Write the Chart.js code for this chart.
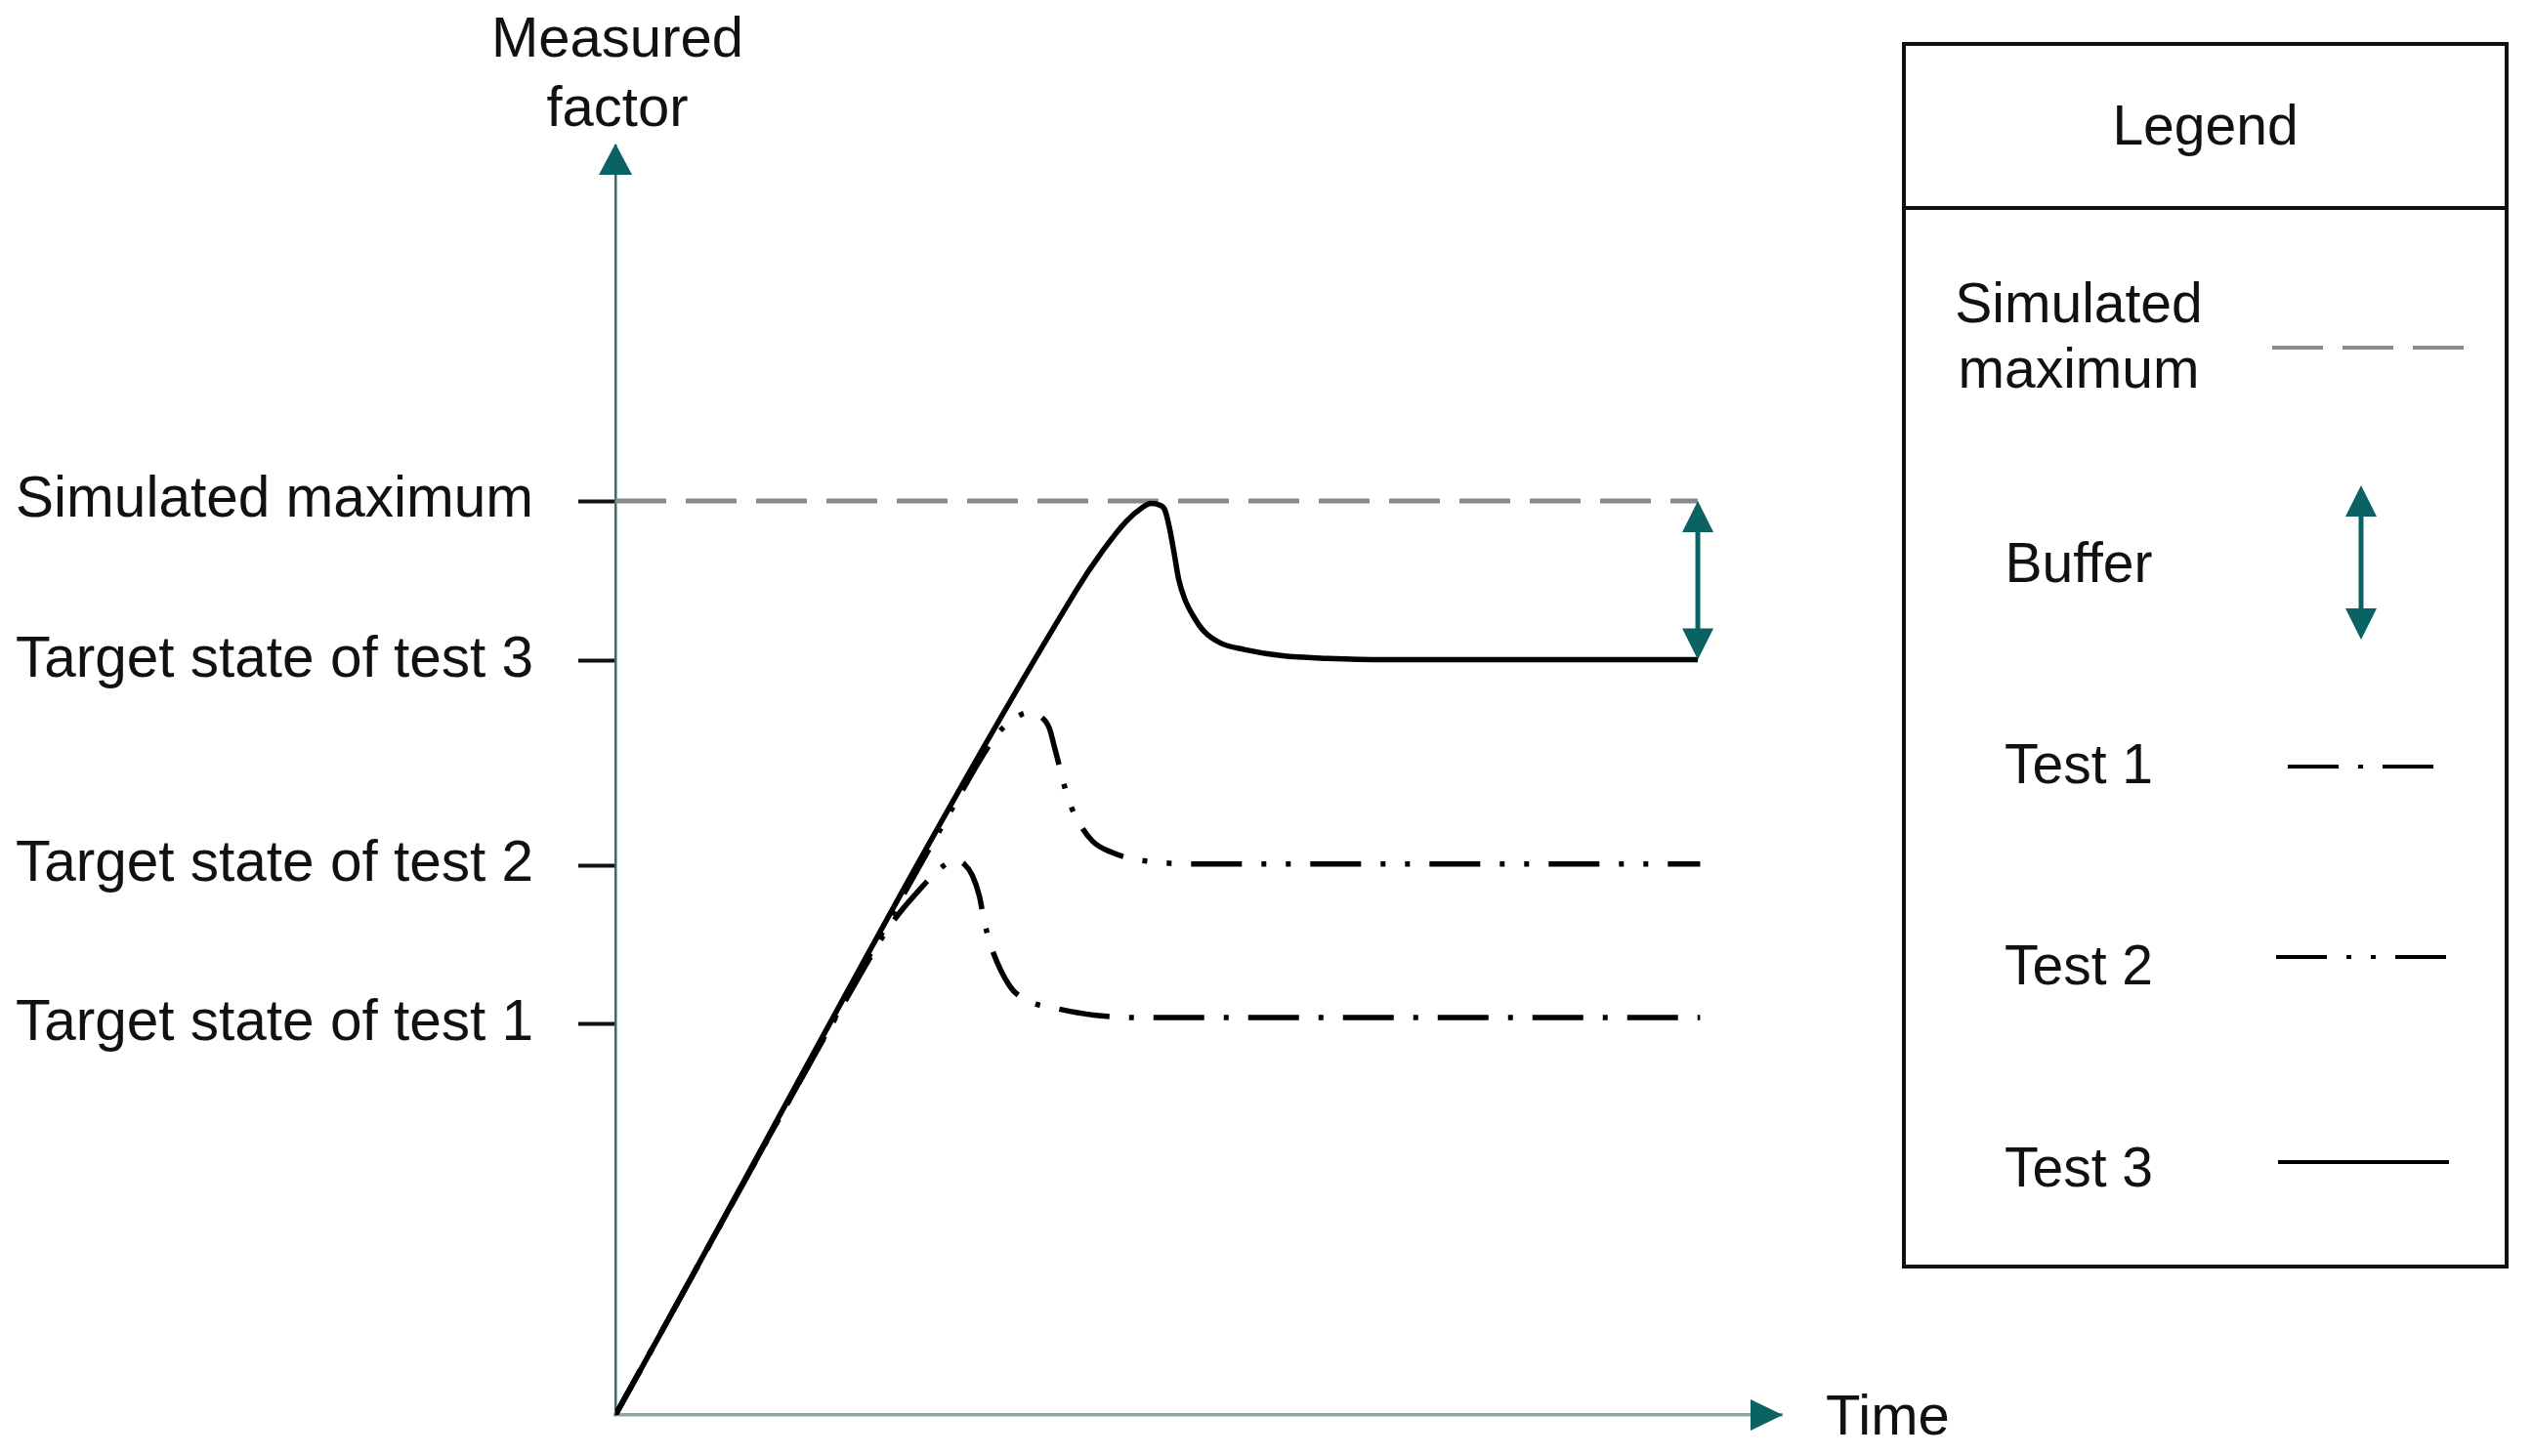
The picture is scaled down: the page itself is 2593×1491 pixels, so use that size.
<!DOCTYPE html>
<html><head><meta charset="utf-8">
<script src="https://cdn.jsdelivr.net/npm/chart.js@4.4.1/dist/chart.umd.min.js"></script>
<style>html,body{margin:0;padding:0;background:#fff;}canvas{display:block;}</style>
</head><body>
<canvas id="c" width="2593" height="1491"></canvas>
<script>
// ---- data ----
const yTickValues = [30.8, 43.3, 59.4, 72.0];
const yTickLabels = ['Target state of test 1', 'Target state of test 2', 'Target state of test 3', 'Simulated maximum'];
const yAxisTitle = ['Measured', 'factor'];
const xAxisTitle = 'Time';

const simMaxTime  = [0, 92.8];
const simMaxValue = [72.0, 72.0];

const test1Time  = [0, 21.5, 23.0, 24.4, 25.8, 27.1, 28.2, 29.1, 29.9, 30.6, 31.2, 31.6, 32.1, 33.8, 35.4, 37.4, 41.0, 45.0, 93.0];
const test1Value = [0, 35.5, 37.8, 39.6, 41.1, 42.4, 43.3, 43.7, 43.4, 42.5, 40.9, 39.0, 37.2, 33.8, 32.6, 32.1, 31.5, 31.3, 31.3];

const test2Time  = [0, 30.0, 31.4, 32.7, 34.0, 35.3, 36.3, 37.2, 37.7, 38.8, 39.6, 40.9, 42.6, 44.4, 46.9, 50.0, 93.0];
const test2Value = [0, 49.6, 51.8, 53.6, 54.7, 55.3, 55.1, 54.1, 52.4, 48.6, 46.9, 45.2, 44.3, 43.8, 43.5, 43.4, 43.4];

const test3Time  = [0, 39.4, 41.8, 43.8, 45.2, 45.9, 46.6, 47.1, 47.5, 47.9, 48.3, 48.8, 49.5, 50.5, 51.9, 53.9, 57.2, 61.1, 66.0, 92.8];
const test3Value = [0, 64.8, 68.1, 70.4, 71.5, 71.8, 71.7, 71.3, 69.9, 67.9, 65.8, 64.3, 63.0, 61.7, 60.8, 60.3, 59.8, 59.6, 59.5, 59.5];

const bufferTime = 92.8;
const bufferFrom = 72.0;
const bufferTo   = 59.5;

const legendTitle = 'Legend';
const legendLabels = [['Simulated', 'maximum'], ['Buffer'], ['Test 1'], ['Test 2'], ['Test 3']];

// ---- styles ----
const FONT_FAMILY = "'Liberation Sans', Arial, sans-serif";
const FONT = "58px " + FONT_FAMILY;
const TEXT = '#111111';
const TEAL = '#0b6262';
const pts = (xs, ys) => xs.map((x, i) => ({x: x, y: ys[i]}));

const dashSim = [52, 20];
const dashT1 = [52, 20, 5, 20];
const dashT2 = [52, 20, 5, 20, 5, 20];

function arrowHead(ctx, tipX, tipY, dir, len, half) {
  ctx.beginPath();
  if (dir === 'up') { ctx.moveTo(tipX, tipY); ctx.lineTo(tipX - half, tipY + len); ctx.lineTo(tipX + half, tipY + len); }
  if (dir === 'down') { ctx.moveTo(tipX, tipY); ctx.lineTo(tipX - half, tipY - len); ctx.lineTo(tipX + half, tipY - len); }
  if (dir === 'right') { ctx.moveTo(tipX, tipY); ctx.lineTo(tipX - len, tipY - half); ctx.lineTo(tipX - len, tipY + half); }
  ctx.closePath();
  ctx.fill();
}
function doubleArrow(ctx, x, yTop, yBot) {
  ctx.save();
  ctx.strokeStyle = TEAL; ctx.fillStyle = TEAL; ctx.lineWidth = 5;
  ctx.beginPath(); ctx.moveTo(x, yTop + 20); ctx.lineTo(x, yBot - 20); ctx.stroke();
  arrowHead(ctx, x, yTop, 'up', 32, 16);
  arrowHead(ctx, x, yBot, 'down', 32, 16);
  ctx.restore();
}

const decor = {
  id: 'decor',
  afterDraw(chart) {
    const ctx = chart.ctx;
    const a = chart.chartArea;
    const xs = chart.scales.x, ys = chart.scales.y;
    ctx.save();
    // axis arrowheads
    ctx.fillStyle = TEAL;
    arrowHead(ctx, a.left, a.top - 2, 'up', 32, 17);
    arrowHead(ctx, a.right + 1, a.bottom, 'right', 33, 16);
    // buffer arrow
    doubleArrow(ctx, xs.getPixelForValue(bufferTime), ys.getPixelForValue(bufferFrom), ys.getPixelForValue(bufferTo));
    // axis titles
    ctx.fillStyle = TEXT; ctx.font = FONT; ctx.textBaseline = 'alphabetic';
    ctx.textAlign = 'center';
    ctx.fillText(yAxisTitle[0], a.left + 2, 58);
    ctx.fillText(yAxisTitle[1], a.left + 2, 129);
    ctx.textAlign = 'left';
    ctx.fillText(xAxisTitle, a.right + 45, 1469);

    // legend box
    const L = {left: 1949, top: 45, right: 2566, bottom: 1297, divider: 213, textX: 2128};
    ctx.strokeStyle = '#111'; ctx.lineWidth = 4;
    ctx.strokeRect(L.left, L.top, L.right - L.left, L.bottom - L.top);
    ctx.beginPath(); ctx.moveTo(L.left, L.divider); ctx.lineTo(L.right, L.divider); ctx.stroke();
    ctx.font = "57px " + FONT_FAMILY;
    ctx.textAlign = 'center';
    ctx.fillText(legendTitle, (L.left + L.right) / 2, 148);
    const baselines = [[330, 397], [596], [802], [1008], [1215]];
    legendLabels.forEach((lines, i) => lines.forEach((t, j) => ctx.fillText(t, L.textX, baselines[i][j])));
    // legend symbols
    const ds = chart.data.datasets;
    const sym = [
      {d: ds[0], x1: 2326, x2: 2522, y: 356},
      null,
      {d: ds[1], x1: 2342, x2: 2494, y: 785},
      {d: ds[2], x1: 2330, x2: 2506, y: 980},
      {d: ds[3], x1: 2332, x2: 2507, y: 1190}
    ];
    sym.forEach(s => {
      if (!s) return;
      ctx.save();
      ctx.beginPath();
      ctx.rect(s.x1, s.y - 10, s.x2 - s.x1, 20); ctx.clip();
      ctx.strokeStyle = s.d.borderColor; ctx.lineWidth = 4; ctx.lineCap = 'butt';
      ctx.setLineDash(s.d.borderDash || []);
      ctx.beginPath(); ctx.moveTo(s.x1, s.y); ctx.lineTo(s.x2, s.y); ctx.stroke();
      ctx.restore();
    });
    doubleArrow(ctx, 2417, 497, 655);
    ctx.restore();
  }
};

const lineBase = {borderWidth: 5.5, pointRadius: 0, borderCapStyle: 'butt', cubicInterpolationMode: 'monotone', fill: false};

new Chart(document.getElementById('c'), {
  type: 'line',
  data: {
    datasets: [
      Object.assign({}, lineBase, {label: 'Simulated maximum', data: pts(simMaxTime, simMaxValue), borderColor: '#8a8a8a', borderWidth: 5, borderDash: dashSim, order: 4}),
      Object.assign({}, lineBase, {label: 'Test 1', data: pts(test1Time, test1Value), borderColor: '#000000', borderDash: dashT1, order: 2}),
      Object.assign({}, lineBase, {label: 'Test 2', data: pts(test2Time, test2Value), borderColor: '#000000', borderDash: dashT2, order: 3}),
      Object.assign({}, lineBase, {label: 'Test 3', data: pts(test3Time, test3Value), borderColor: '#000000', order: 1})
    ]
  },
  options: {
    responsive: false,
    devicePixelRatio: 1,
    animation: false,
    layout: {padding: {top: 149, right: 769, left: 0, bottom: 0}},
    plugins: {legend: {display: false}, tooltip: {enabled: false}, title: {display: false}},
    scales: {
      x: {
        type: 'linear', min: 0, max: 100,
        ticks: {display: false},
        grid: {display: false, drawTicks: false},
        border: {display: true, color: '#86a9a8', width: 3.5},
        afterFit: s => { s.height = 42; s.paddingLeft = 0; s.paddingRight = 0; }
      },
      y: {
        type: 'linear', min: 0, max: 100,
        afterBuildTicks: s => { s.ticks = yTickValues.map(v => ({value: v})); },
        ticks: {
          autoSkip: false, padding: 46, color: TEXT,
          font: {family: FONT_FAMILY, size: 58.5},
          callback: (v, i) => yTickLabels[i]
        },
        grid: {display: true, drawOnChartArea: false, drawTicks: true, tickLength: 38, tickColor: '#111', tickWidth: 4},
        border: {display: true, color: '#2f6e6f', width: 2.5},
        afterFit: s => { s.width = 630; s.paddingTop = 0; s.paddingBottom = 0; }
      }
    }
  },
  plugins: [decor]
});
</script>
</body></html>
